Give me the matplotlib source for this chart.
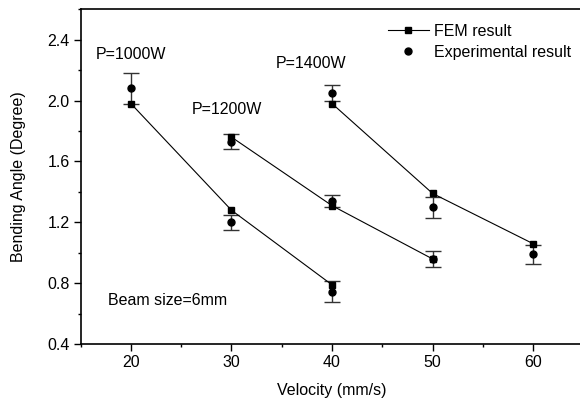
import numpy as np
import matplotlib
matplotlib.use('Agg')
import matplotlib.pyplot as plt
from matplotlib.ticker import MultipleLocator
from matplotlib.lines import Line2D

plt.rcParams['font.family'] = ['Liberation Sans', 'DejaVu Sans']

# velocidades (mm/s) por potencia
v_1000 = [20, 30, 40]
v_1200 = [30, 40, 50]
v_1400 = [40, 50, 60]

# resultados FEM
fem_1000 = [1.98, 1.28, 0.79]
fem_1200 = [1.76, 1.31, 0.96]
fem_1400 = [1.98, 1.39, 1.06]

# resultados experimentales y barras de error
exp_1000 = [2.08, 1.20, 0.745]
err_1000 = [0.10, 0.05, 0.07]
exp_1200 = [1.73, 1.34, 0.96]
err_1200 = [0.05, 0.04, 0.05]
exp_1400 = [2.05, 1.30, 0.99]
err_1400 = [0.05, 0.07, 0.06]

fs = 11.5

fig = plt.figure(figsize=(5.8, 3.98), dpi=100)
ax = fig.add_axes([0.139, 0.135, 0.867, 0.842])

grupos = [(v_1000, fem_1000, exp_1000, err_1000),
          (v_1200, fem_1200, exp_1200, err_1200),
          (v_1400, fem_1400, exp_1400, err_1400)]

for v, fem, exp, err in grupos:
    ax.errorbar(v, exp, yerr=err, fmt='o', color='black', ms=5, ecolor='#333333',
                elinewidth=1, capsize=6, capthick=1, zorder=3)
    ax.plot(v, fem, '-s', color='black', lw=0.8, ms=5, zorder=4)

ax.set_xlim(15, 65)
ax.set_ylim(0.4, 2.6)
ax.xaxis.set_major_locator(MultipleLocator(10))
ax.xaxis.set_minor_locator(MultipleLocator(5))
ax.yaxis.set_major_locator(MultipleLocator(0.4))
ax.yaxis.set_minor_locator(MultipleLocator(0.2))
ax.tick_params(which='major', direction='out', length=5, width=1, labelsize=fs, pad=3)
ax.tick_params(which='minor', direction='out', length=2.5, width=1)
ax.yaxis.set_major_formatter(plt.FuncFormatter(lambda y, p: f'{y:.1f}'))
for s in ax.spines.values():
    s.set_linewidth(1.2)

ax.set_xlabel('Velocity (mm/s)', fontsize=fs, labelpad=9)
ax.set_ylabel('Bending Angle (Degree)', fontsize=fs, labelpad=15)

ax.text(20, 2.30, 'P=1000W', fontsize=fs, ha='center', va='center')
ax.text(29.5, 1.94, 'P=1200W', fontsize=fs, ha='center', va='center')
ax.text(37.9, 2.24, 'P=1400W', fontsize=fs, ha='center', va='center')
ax.text(17.7, 0.69, 'Beam size=6mm', fontsize=fs, ha='left', va='center')

h_fem = Line2D([], [], color='black', lw=0.8, marker='s', ms=5)
h_exp = Line2D([], [], color='black', lw=0, marker='o', ms=5)
ax.legend([h_fem, h_exp], ['FEM result', 'Experimental result'],
          loc='upper left', bbox_to_anchor=(0.582, 1.0), frameon=False,
          fontsize=fs, handlelength=2.6, handletextpad=0.3, labelspacing=0.4,
          numpoints=1)

fig.savefig('out.png', dpi=100)
